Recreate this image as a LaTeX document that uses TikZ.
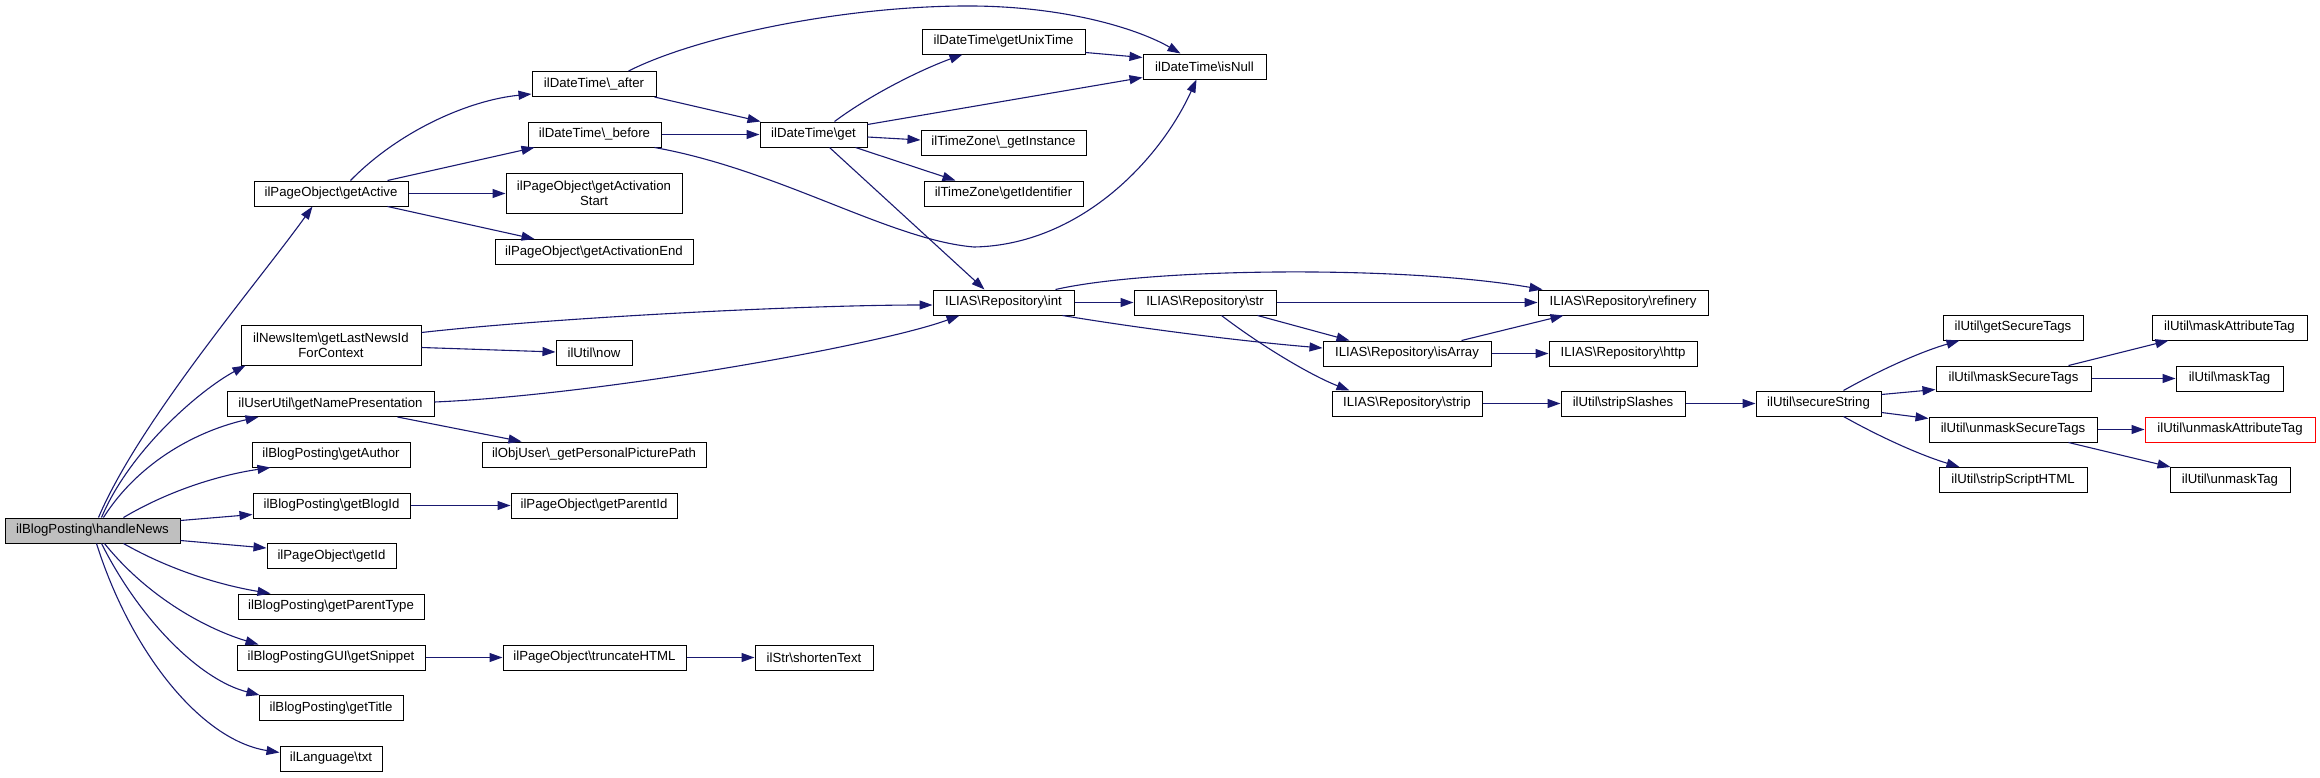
\documentclass[tikz,border=0pt]{standalone}
\usepackage{fontspec}
\setmainfont{Liberation Sans}
\usetikzlibrary{arrows.meta,calc}
\definecolor{edgeblue}{HTML}{191970}
\newcommand{\bs}{\textbackslash}
\begin{document}
\begin{tikzpicture}[x=0.5pt,y=-0.5pt,
  box/.style={draw=black,line width=0.5pt,fill=white,inner sep=0pt,minimum height=12.5pt,font=\fontsize{6.6}{7.5}\selectfont,align=center},
  wd/.style={minimum width=#1*0.5pt},
  tall/.style={minimum height=20pt},
  e/.style={draw=edgeblue,line width=0.55pt,-{Triangle[length=6.5pt,width=4.5pt]}}]
\useasboundingbox (0,0) rectangle (2320,777);
% column 1
\node[box,wd=175,fill=black!25] (hn) at (92.5,530.5) {ilBlogPosting\bs handleNews};
% column 2
\node[box,wd=154] (gA) at (331,193.5) {ilPageObject\bs getActive};
\node[box,wd=180,tall] (lastNews) at (331,345) {ilNewsItem\bs getLastNewsId\\ForContext};
\node[box,wd=207] (namePres) at (330.5,404) {ilUserUtil\bs getNamePresentation};
\node[box,wd=158] (author) at (331,454.5) {ilBlogPosting\bs getAuthor};
\node[box,wd=157] (blogId) at (331.5,505.5) {ilBlogPosting\bs getBlogId};
\node[box,wd=129] (getId) at (331.5,556) {ilPageObject\bs getId};
\node[box,wd=186] (parentType) at (331,606.5) {ilBlogPosting\bs getParentType};
\node[box,wd=188] (snippet) at (331,657.5) {ilBlogPostingGUI\bs getSnippet};
\node[box,wd=144] (title) at (331,708) {ilBlogPosting\bs getTitle};
\node[box,wd=102] (txt) at (331,758.5) {ilLanguage\bs txt};
% column 3
\node[box,wd=124] (after) at (594,84) {ilDateTime\bs \_after};
\node[box,wd=133] (before) at (594.5,134.5) {ilDateTime\bs \_before};
\node[box,wd=176,tall] (actStart) at (594,193.5) {ilPageObject\bs getActivation\\Start};
\node[box,wd=198] (actEnd) at (594,252) {ilPageObject\bs getActivationEnd};
\node[box,wd=76] (now) at (594,353) {ilUtil\bs now};
\node[box,wd=224] (picPath) at (594,454.5) {ilObjUser\bs \_getPersonalPicturePath};
\node[box,wd=166] (parentId) at (594,505.5) {ilPageObject\bs getParentId};
\node[box,wd=183] (truncate) at (594.5,657.5) {ilPageObject\bs truncateHTML};
% column 4
\node[box,wd=107] (dtget) at (813.5,134.5) {ilDateTime\bs get};
\node[box,wd=118] (shorten) at (814,657.5) {ilStr\bs shortenText};
% column 5
\node[box,wd=163] (unix) at (1003.5,41.5) {ilDateTime\bs getUnixTime};
\node[box,wd=165] (getInst) at (1003.5,142.5) {ilTimeZone\bs \_getInstance};
\node[box,wd=159] (getIdent) at (1003.5,193.5) {ilTimeZone\bs getIdentifier};
\node[box,wd=141] (int) at (1003.5,302.5) {ILIAS\bs Repository\bs int};
% column 6
\node[box,wd=123] (isNull) at (1204.5,66.5) {ilDateTime\bs isNull};
\node[box,wd=142] (str) at (1205,302.5) {ILIAS\bs Repository\bs str};
% column 7
\node[box,wd=168] (isArray) at (1407,353.5) {ILIAS\bs Repository\bs isArray};
\node[box,wd=150] (strip) at (1407,403.5) {ILIAS\bs Repository\bs strip};
% column 8
\node[box,wd=170] (refinery) at (1623,302.5) {ILIAS\bs Repository\bs refinery};
\node[box,wd=148] (http) at (1623,353.5) {ILIAS\bs Repository\bs http};
\node[box,wd=124] (stripSlashes) at (1623,403.5) {ilUtil\bs stripSlashes};
% column 9
\node[box,wd=125] (secure) at (1818.5,403.5) {ilUtil\bs secureString};
% column 10
\node[box,wd=140] (getSecure) at (2013,327.5) {ilUtil\bs getSecureTags};
\node[box,wd=155] (maskSecure) at (2013.5,378.5) {ilUtil\bs maskSecureTags};
\node[box,wd=168] (unmaskSecure) at (2013,429.5) {ilUtil\bs unmaskSecureTags};
\node[box,wd=148] (stripScript) at (2013,480) {ilUtil\bs stripScriptHTML};
% column 11
\node[box,wd=155] (maskAttr) at (2229.5,327.5) {ilUtil\bs maskAttributeTag};
\node[box,wd=107] (maskTag) at (2229.5,378.5) {ilUtil\bs maskTag};
\node[box,wd=170,draw=red] (unmaskAttr) at (2230,429.5) {ilUtil\bs unmaskAttributeTag};
\node[box,wd=120] (unmaskTag) at (2230,480) {ilUtil\bs unmaskTag};

% edges from handleNews
\draw[e] ($(hn.north west)+(94,0)$) .. controls (140,420) and (260,280) .. ($(gA.south west)+(59,0)$);
\draw[e] ($(hn.north west)+(97,0)$) .. controls (130,450) and (200,390) .. ($(lastNews.south west)+(5,0)$);
\draw[e] ($(hn.north west)+(99,0)$) .. controls (140,460) and (200,430) .. ($(namePres.south west)+(32,0)$);
\draw[e] ($(hn.north west)+(119,0)$) .. controls (170,490) and (220,475) .. ($(author.south west)+(19,0)$);
\draw[e] ($(hn.north east)+(0,3)$) -- ($(blogId.west)+(0,9)$);
\draw[e] ($(hn.south east)+(0,-3)$) -- ($(getId.west)+(0,-8)$);
\draw[e] ($(hn.south west)+(119,0)$) .. controls (170,570) and (220,585) .. ($(parentType.north west)+(33,0)$);
\draw[e] ($(hn.south west)+(100,0)$) .. controls (150,600) and (210,630) .. ($(snippet.north west)+(22,0)$);
\draw[e] ($(hn.south west)+(97,0)$) .. controls (140,620) and (200,680) .. ($(title.north west)+(1,0)$);
\draw[e] ($(hn.south west)+(92,0)$) .. controls (130,650) and (200,740) .. ($(txt.west)+(0,-6)$);
% getActive
\draw[e] ($(gA.north west)+(97,0)$) .. controls (400,130) and (470,100) .. ($(after.south west)+(0,-3)$);
\draw[e] ($(gA.north west)+(134,0)$) -- ($(before.south west)+(7,0)$);
\draw[e] (gA.east) -- (actStart.west);
\draw[e] ($(gA.south west)+(134,0)$) -- ($(actEnd.north west)+(40,0)$);
% after / before
\draw[e] ($(after.north west)+(97,0)$) .. controls (700,35) and (850,5) .. (974,6) .. controls (1070,7) and (1140,30) .. ($(isNull.north west)+(38,0)$);
\draw[e] ($(after.south east)+(-2,0)$) -- ($(dtget.north west)+(1,0)$);
\draw[e] (before.east) -- (dtget.west);
\draw[e] ($(before.south east)+(-7,0)$) .. controls (780,170) and (890,240) .. (974,247) .. controls (1080,245) and (1160,160) .. ($(isNull.south west)+(54,0)$);
% dtget
\draw[e] ($(dtget.north west)+(75,0)$) .. controls (870,95) and (920,70) .. ($(unix.south west)+(41,0)$);
\draw[e] ($(dtget.north east)+(0,3)$) -- ($(isNull.south west)+(0,-2)$);
\draw[e] ($(dtget.east)+(0,2.5)$) -- ($(getInst.west)+(0,-2.5)$);
\draw[e] ($(dtget.south west)+(96,0)$) -- ($(getIdent.north west)+(32,0)$);
\draw[e] ($(dtget.south west)+(70,0)$) -- ($(int.north west)+(52,0)$);
\draw[e] ($(unix.south east)+(0,-2)$) -- ($(isNull.north west)+(0,4)$);
% lastNews, namePres, blogId, snippet
\draw[e] ($(lastNews.north east)+(0,8)$) .. controls (550,318) and (800,305) .. ($(int.west)+(0,2.5)$);
\draw[e] ($(lastNews.north east)+(0,23)$) -- ($(now.west)+(0,-1)$);
\draw[e] ($(namePres.east)+(0,-2)$) .. controls (600,395) and (880,345) .. ($(int.south west)+(27,0)$);
\draw[e] ($(namePres.south west)+(171,0)$) -- ($(picPath.north west)+(40,0)$);
\draw[e] (blogId.east) -- (parentId.west);
\draw[e] (snippet.east) -- (truncate.west);
\draw[e] (truncate.east) -- (shorten.west);
% int, str
\draw[e] (int.east) -- (str.west);
\draw[e] ($(int.north west)+(123,0)$) .. controls (1150,268) and (1400,265) .. ($(refinery.north west)+(5,0)$);
\draw[e] ($(int.south west)+(130,0)$) .. controls (1150,330) and (1250,342) .. ($(isArray.west)+(0,-5.5)$);
\draw[e] (str.east) -- (refinery.west);
\draw[e] ($(str.south west)+(124,0)$) -- ($(isArray.north west)+(27,0)$);
\draw[e] ($(str.south west)+(88,0)$) .. controls (1260,345) and (1310,375) .. ($(strip.north west)+(18,0)$);
\draw[e] ($(isArray.north west)+(139,0)$) -- ($(refinery.south west)+(26,0)$);
\draw[e] (isArray.east) -- (http.west);
\draw[e] (strip.east) -- (stripSlashes.west);
\draw[e] (stripSlashes.east) -- (secure.west);
% secureString
\draw[e] ($(secure.north west)+(88,0)$) .. controls (1880,370) and (1920,352) .. ($(getSecure.south west)+(17,0)$);
\draw[e] ($(secure.north east)+(0,4)$) -- ($(maskSecure.south west)+(0,-2)$);
\draw[e] ($(secure.south east)+(0,-4)$) -- ($(unmaskSecure.north west)+(0,2)$);
\draw[e] ($(secure.south west)+(88,0)$) .. controls (1880,437) and (1920,455) .. ($(stripScript.north west)+(21,0)$);
\draw[e] ($(maskSecure.north west)+(133,0)$) -- ($(maskAttr.south west)+(17,0)$);
\draw[e] (maskSecure.east) -- (maskTag.west);
\draw[e] (unmaskSecure.east) -- (unmaskAttr.west);
\draw[e] ($(unmaskSecure.south west)+(140,0)$) -- ($(unmaskTag.north west)+(1,0)$);
\end{tikzpicture}
\end{document}
